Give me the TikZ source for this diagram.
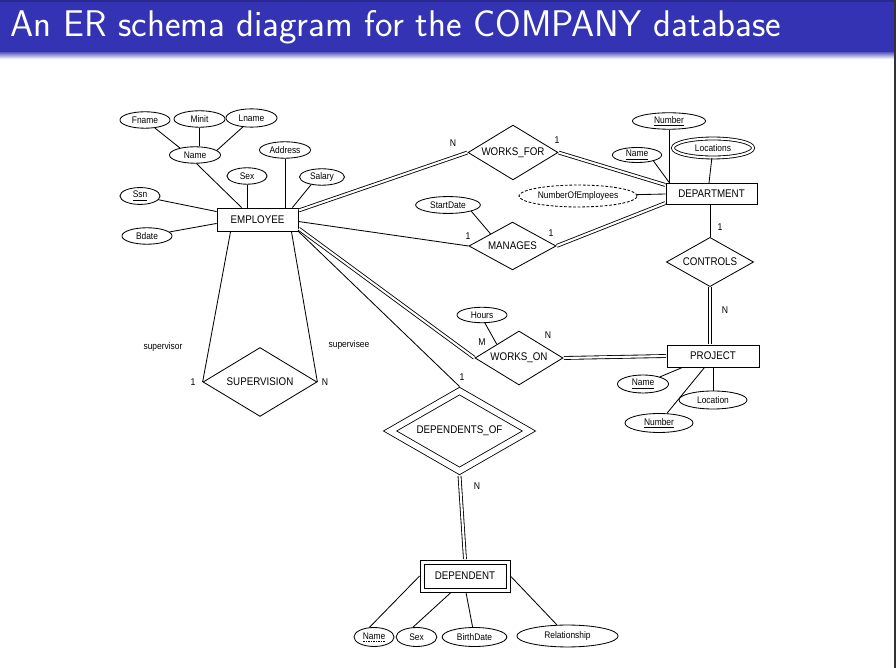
\documentclass[tikz,border=0pt]{standalone}
\usepackage{fontspec}
\usetikzlibrary{shapes.geometric,calc}
\newfontfamily\diagfont[FakeStretch=0.88]{Liberation Sans}
\definecolor{barblue}{RGB}{51,51,179}
\newcommand\dashkey[1]{\setbox0\hbox{#1}\vtop{\offinterlineskip\copy0\kern1pt\hbox to\wd0{\xleaders\hbox to 1.7pt{\hss\vrule height 0.45pt depth 0pt width 1pt\hss}\hfill}}}

\begin{document}
\begin{tikzpicture}
        [x=0.025cm,y=-0.025cm,line width=0.6pt,
        entity node/.style={rectangle,draw,inner sep=0pt,font=\diagfont\fontsize{7.9}{9}\selectfont},
        rel node/.style={diamond,draw,inner sep=0pt,aspect=1.6,font=\diagfont\fontsize{7.9}{9}\selectfont},
        ident node/.style={rel node,double,double distance=4pt},
        attr node/.style={ellipse,draw,inner sep=0pt,minimum height=11.7pt,font=\diagfont\fontsize{6.8}{8}\selectfont},
        multi node/.style={attr node,double,double distance=1.5pt},
        derived node/.style={attr node,dash pattern=on 2pt off 1.2pt},
        card label/.style={inner sep=0pt,font=\diagfont\fontsize{7}{8}\selectfont},
        role label/.style={inner sep=0pt,font=\diagfont\fontsize{6.8}{8}\selectfont},
        total/.style={double,double distance=1.5pt,shorten <=0.3pt,shorten >=0.3pt}]

    \useasboundingbox (0,0) rectangle (896,668);
    \fill[barblue] (0,0) rectangle (896,53);
    \fill[barblue!80!black] (0,0) rectangle (896,2);
    \shade[top color=barblue!70,bottom color=white] (0,53) rectangle (896,59);
    \fill[black!80] (893.5,0) rectangle (896,668);
    \node[anchor=base west,inner sep=0pt,text=white,font=\sffamily\fontsize{26.4}{30}\selectfont] (title) at (10,37) {An ER schema diagram for the COMPANY database};

    \node[entity node,minimum width=57.6pt,minimum height=16.4pt] (emp) at (257.5,219.5) {EMPLOYEE};
    \node[entity node,minimum width=64.7pt,minimum height=15pt] (dept) at (711.5,194) {DEPARTMENT};
    \node[entity node,minimum width=65.4pt,minimum height=15.6pt] (proj) at (713,356) {PROJECT};
    \node[entity node,minimum width=58.3pt,minimum height=17pt] (dep) at (465,576) {DEPENDENT};
    \node[entity node,minimum width=64pt,minimum height=22.8pt] (depbox) at (dep.center) {};

    \node[rel node,minimum width=64pt,minimum height=39pt] (wf) at (513,152.5) {WORKS\_FOR};
    \node[rel node,minimum width=62pt,minimum height=34pt] (man) at (512.5,246) {MANAGES};
    \node[rel node,minimum width=62pt,minimum height=35pt] (ctrl) at (710,262) {CONTROLS};
    \node[rel node,minimum width=62.6pt,minimum height=38.4pt] (won) at (519,358) {WORKS\_ON};
    \node[rel node,minimum width=81pt,minimum height=49pt] (sup) at (260,382) {SUPERVISION};
    \node[ident node,minimum width=99pt,minimum height=57pt] (dof) at (459.5,431) {DEPENDENTS\_OF};

    \node[attr node,minimum width=35.6pt] (fname) at (145,120) {Fname};
    \node[attr node,minimum width=36.3pt] (minit) at (199.5,119) {Minit};
    \node[attr node,minimum width=36.3pt,minimum height=13pt] (lname) at (251.5,118) {Lname};
    \node[attr node,minimum width=36.3pt] (ename) at (195,155) {Name};
    \node[attr node,minimum width=36.3pt] (addr) at (285,150) {Address};
    \node[attr node,minimum width=28.5pt] (esex) at (247,176) {Sex};
    \node[attr node,minimum width=32pt] (sal) at (322,177) {Salary};
    \node[attr node,minimum width=28.5pt,minimum height=12pt] (ssn) at (140,196) {\underline{Ssn}};
    \node[attr node,minimum width=35.6pt] (bdate) at (147,236) {Bdate};

    \node[attr node,minimum width=52pt] (dnum) at (669,121) {\underline{Number}};
    \node[attr node,minimum width=35pt,minimum height=10.7pt] (dname) at (637,155) {\underline{Name}};
    \node[multi node,minimum width=57pt,minimum height=13.5pt] (locs) at (713,148) {Locations};
    \node[derived node,minimum width=84pt,minimum height=15.6pt] (nemp) at (578,196) {NumberOfEmployees};
    \node[attr node,minimum width=46pt,minimum height=12pt] (sdate) at (448,205) {StartDate};
    \node[attr node,minimum width=35.6pt,minimum height=11pt] (hours) at (482,315) {Hours};

    \node[attr node,minimum width=36.3pt,minimum height=12.8pt] (pname) at (643,384) {\underline{Name}};
    \node[attr node,minimum width=48.4pt,minimum height=12.8pt] (ploc) at (713,400) {Location};
    \node[attr node,minimum width=48.4pt,minimum height=13.5pt] (pnum) at (659,423) {\underline{Number}};

    \node[attr node,minimum width=28.5pt,minimum height=13.5pt] (dpname) at (374,637) {\dashkey{Name}};
    \node[attr node,minimum width=29pt,minimum height=13.5pt] (dpsex) at (416.5,637) {Sex};
    \node[attr node,minimum width=46pt,minimum height=13.5pt] (bdt) at (474.5,637) {BirthDate};
    \node[attr node,minimum width=72pt,minimum height=15.6pt] (relship) at (567.5,636) {Relationship};

    \node[card label] (wfn) at (453,143) {N};
    \node[card label] (wf1) at (557,140) {1};
    \node[card label] (man1a) at (468,236) {1};
    \node[card label] (man1b) at (551,233) {1};
    \node[card label] (ctrl1) at (720,227) {1};
    \node[card label] (ctrln) at (725,310) {N};
    \node[card label] (wonm) at (482,342) {M};
    \node[card label] (wonn) at (548,335) {N};
    \node[card label] (sup1) at (193,382) {1};
    \node[card label] (supn) at (325,382) {N};
    \node[card label] (dof1) at (462,377) {1};
    \node[card label] (dofn) at (477,486) {N};
    \node[role label] (svr) at (163,347) {supervisor};
    \node[role label] (sve) at (349,345) {supervisee};

    \path
    (fname.321) edge (ename.155)
    (minit.south) edge (minit.south |- ename.north)
    (lname.226) edge (ename.12)
    (ename.280) edge ($(emp.north west)+(25,0)$)
    (esex.south) edge (esex.south |- emp.north)
    (addr.south) edge (addr.south |- emp.north)
    (sal.215) edge ($(emp.north east)+(-6,0)$)
    (ssn) edge ($(emp.north west)+(0,4)$)
    (bdate) edge ($(emp.south west)+(0,-8)$);

    \path
    (dnum.south) edge (dnum.south |- dept.north)
    (dname.340) edge ($(dept.north west)+(4,0)$)
    (locs) edge ($(dept.north)+(-2.5,0)$)
    (nemp) edge (dept.west)
    (sdate.345) edge (man.north west)
    (hours.290) edge (won.north west)
    (pname) edge ($(proj.south west)+(16,0)$)
    (pnum) edge ($(proj.south west)+(38,0)$)
    (ploc.north) edge (ploc.north |- proj.south)
    (dpname.115) edge (depbox.west)
    (dpsex.110) edge ($(depbox.south)+(-14,0)$)
    ($(depbox.south)+(1,0)$) edge (bdt)
    (relship) edge (depbox.east);

    \path
    ($(emp.north east)+(0,3)$) edge[total] (wf.west)
    (wf.east) edge[total] ($(dept.north west)+(0,2)$)
    ($(emp.east)+(0,2)$) edge (man.west)
    (man.east) edge[total] ($(dept.south west)+(0,-2)$)
    (ctrl.north) edge (ctrl.north |- dept.south)
    (ctrl.south) edge[total] (ctrl.south |- proj.north)
    ($(emp.south east)+(0,-3)$) edge[total] (won.west)
    (won.east) edge[total] (proj.west)
    ($(emp.south west)+(14,0)$) edge (sup.west)
    ($(emp.south east)+(-7,0)$) edge (sup.east)
    (emp.south east) edge ($(dof.north)+(0,-4)$)
    ($(dof.south)+(0,4)$) edge[total] (depbox.north);

\end{tikzpicture}
\end{document}
